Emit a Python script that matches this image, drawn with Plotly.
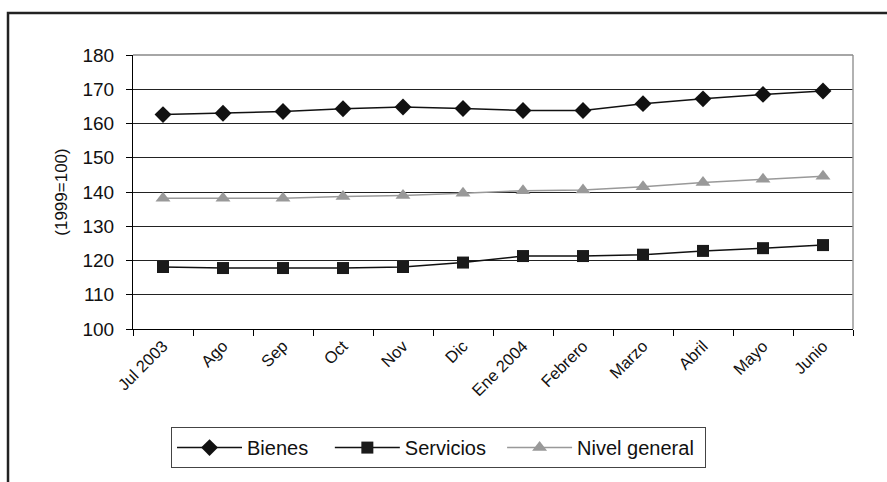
import plotly.graph_objects as go

categories = ["Jul 2003", "Ago", "Sep", "Oct", "Nov", "Dic", "Ene 2004",
              "Febrero", "Marzo", "Abril", "Mayo", "Junio"]
bienes = [162.6, 163.0, 163.5, 164.3, 164.8, 164.4, 163.8, 163.8, 165.8, 167.2, 168.5, 169.5]
servicios = [118.1, 117.8, 117.8, 117.8, 118.1, 119.4, 121.3, 121.3, 121.7, 122.8, 123.6, 124.5]
nivel_general = [138.2, 138.2, 138.2, 138.7, 139.0, 139.6, 140.4, 140.6, 141.5, 142.8, 143.7, 144.6]
series_names = ["Bienes", "Servicios", "Nivel general"]
y_ticks = [100, 110, 120, 130, 140, 150, 160, 170, 180]

font = dict(family="Liberation Sans, Arial, sans-serif", size=16, color="#111")
nb = "\u00a0"

fig = go.Figure()
fig.add_trace(go.Scatter(x=categories, y=bienes, name=series_names[0] + nb * 3, mode="lines+markers",
                         line=dict(color="#111", width=1.5),
                         marker=dict(symbol="diamond", size=13, color="#111")))
fig.add_trace(go.Scatter(x=categories, y=servicios, name=series_names[1] + nb * 2, mode="lines+markers",
                         line=dict(color="#111", width=1.5),
                         marker=dict(symbol="square", size=12, color="#1a1a1a")))
fig.add_trace(go.Scatter(x=categories, y=nivel_general, name=series_names[2] + nb,
                         mode="lines+markers",
                         line=dict(color="#999", width=1.5),
                         marker=dict(symbol="triangle-up", size=13, color="#999")))

fig.update_layout(
    width=887, height=482,
    margin=dict(l=133, r=34, t=55, b=153),
    paper_bgcolor="white", plot_bgcolor="white",
    font=font,
    showlegend=True,
    legend=dict(orientation="h", x=0.0528, y=-0.358, xanchor="left", yanchor="top",
                bordercolor="#444", borderwidth=1, bgcolor="white",
                font=dict(size=20), itemwidth=65),
    xaxis=dict(type="category", range=[-0.5, 11.5], tickson="boundaries",
               ticks="outside", ticklen=6, tickcolor="#000", tickangle=-45,
               showline=True, linecolor="#000", linewidth=1, mirror=False,
               showgrid=False, tickfont=dict(size=16.5)),
    yaxis=dict(range=[100, 180], tickvals=y_ticks, ticks="outside", ticklen=6,
               tickcolor="#000", showline=True, linecolor="#000", linewidth=1,
               showgrid=True, gridcolor="#222", gridwidth=1, zeroline=False,
               ticklabelstandoff=8,
               title=dict(text="(1999=100)", font=dict(size=17), standoff=10),
               tickfont=dict(size=19)),
    shapes=[
        dict(type="line", xref="paper", yref="paper", x0=1, x1=1, y0=0, y1=1,
             line=dict(color="#999", width=1.5)),
        dict(type="line", xref="paper", yref="paper", x0=0, x1=1, y0=1, y1=1,
             line=dict(color="#888", width=1.5)),
        dict(type="rect", xref="paper", yref="paper", x0=-0.1736, x1=1.06,
             y0=-0.6, y1=1.1533, line=dict(color="#222", width=2.5)),
    ],
)

fig.write_html("out.html", config={"displayModeBar": False},
               post_script="document.body.style.margin='0';")
